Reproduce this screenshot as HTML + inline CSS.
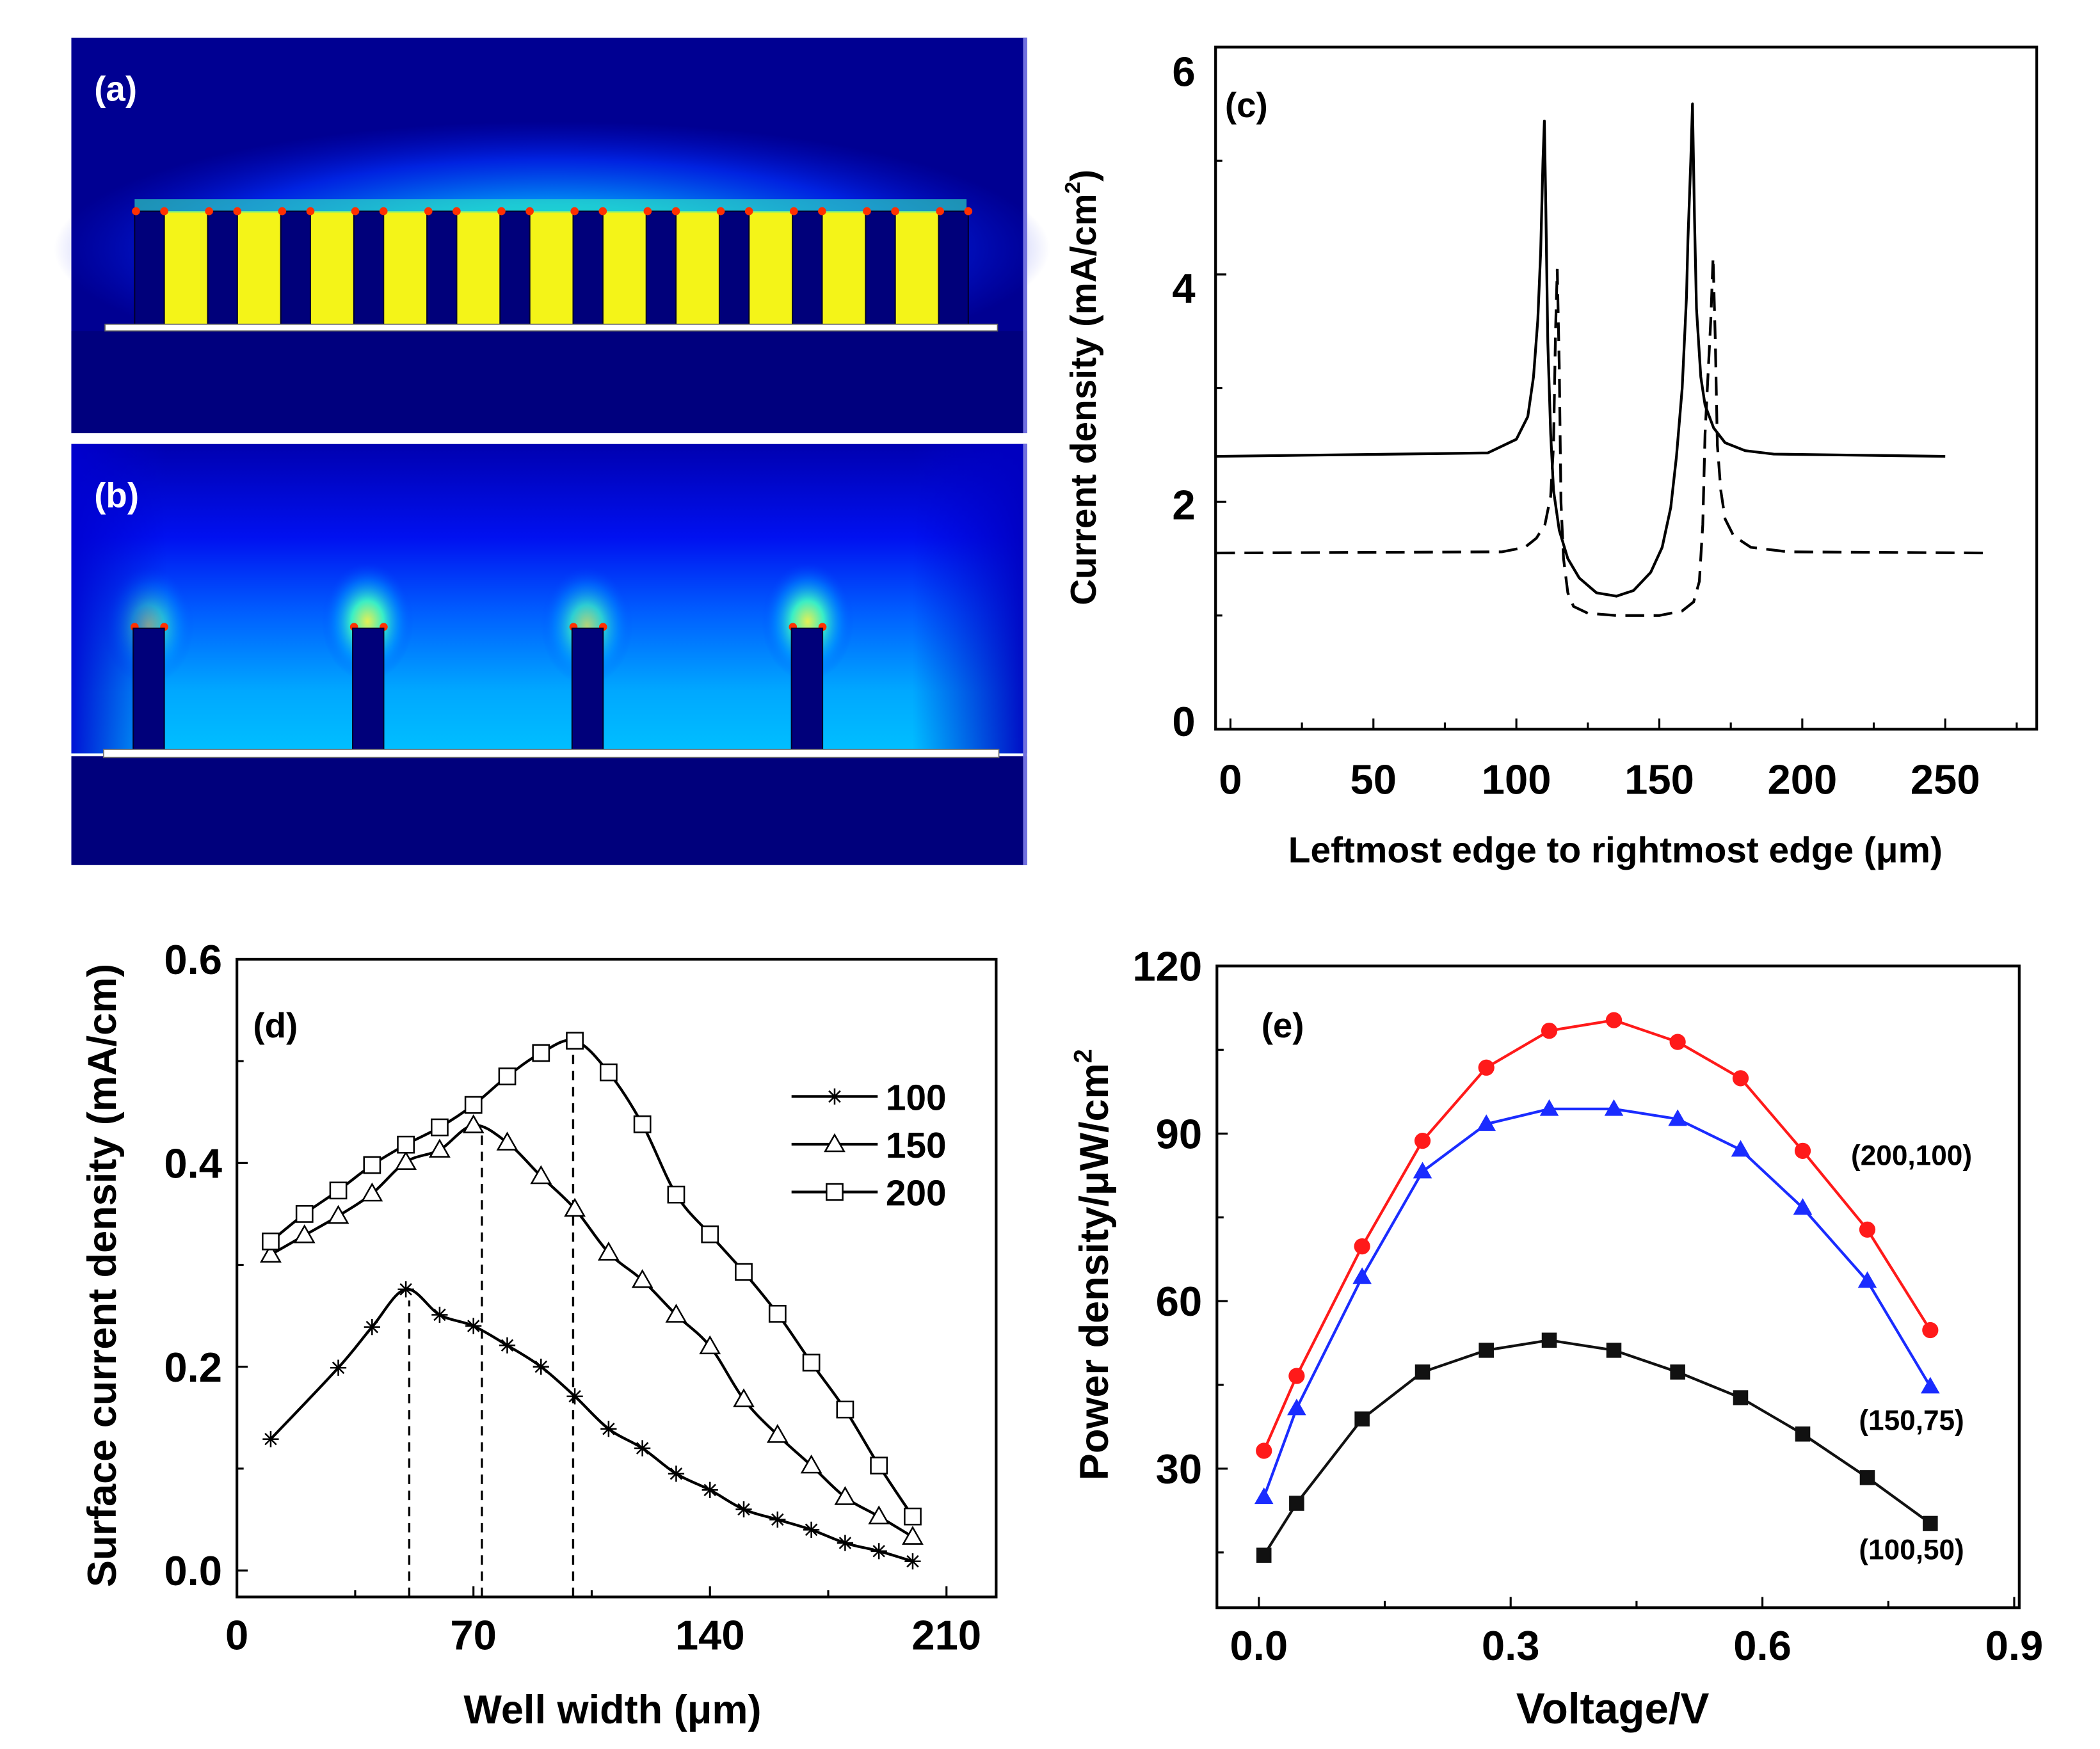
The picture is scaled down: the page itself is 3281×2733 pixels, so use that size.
<!DOCTYPE html>
<html><head><meta charset="utf-8"><style>
html,body{margin:0;padding:0;background:#fff;}
svg{display:block;}
text{font-family:"Liberation Sans",Arial,sans-serif;font-weight:bold;}
</style></head><body>
<svg id="fig" xmlns="http://www.w3.org/2000/svg" width="3281" height="2733" viewBox="0 0 1560 1300" preserveAspectRatio="none">
<defs>
<radialGradient id="glowA" cx="0.5" cy="0.5" r="0.5">
<stop offset="0" stop-color="#00ffe0"/><stop offset="0.35" stop-color="#00a0ff"/><stop offset="0.7" stop-color="#0030ff" stop-opacity="0.8"/><stop offset="1" stop-color="#0010e0" stop-opacity="0"/>
</radialGradient>
<linearGradient id="gB" x1="0" y1="0" x2="0" y2="1">
<stop offset="0" stop-color="#0000b0"/><stop offset="0.3" stop-color="#0010f0"/><stop offset="0.55" stop-color="#0060ff"/><stop offset="0.8" stop-color="#00a8ff"/><stop offset="1" stop-color="#00c0ff"/>
</linearGradient>
<linearGradient id="gBside" x1="0" y1="0" x2="1" y2="0">
<stop offset="0" stop-color="#0000d0" stop-opacity="0.9"/><stop offset="0.1" stop-color="#0000d0" stop-opacity="0"/><stop offset="0.88" stop-color="#0000d0" stop-opacity="0"/><stop offset="1" stop-color="#0000c0" stop-opacity="0.95"/>
</linearGradient>
<radialGradient id="glow"><stop offset="0" stop-color="#ffff40"/><stop offset="0.35" stop-color="#40ffc0"/><stop offset="0.7" stop-color="#00a0ff" stop-opacity="0.5"/><stop offset="1" stop-color="#0040ff" stop-opacity="0"/></radialGradient>
</defs>
</svg>
<script>
const NS="http://www.w3.org/2000/svg";
const svg=document.getElementById('fig');
// ---------- Panel (c) data ----------
const cSolidX=[-5,90,100,104,106,107.5,108.5,109.3,109.8,110.3,111,112,113,115,118,122,128,135,141,147,151,154,156,158,159.5,160,161,161.6,162.3,163,164.5,166,169,173,180,190,250];
const cSolidY=[2.4,2.43,2.55,2.75,3.1,3.6,4.2,5.0,5.35,4.6,3.4,2.6,2.1,1.75,1.5,1.33,1.2,1.17,1.22,1.38,1.6,1.95,2.4,3.0,3.8,4.3,5.0,5.5,4.5,3.7,3.1,2.85,2.65,2.52,2.45,2.42,2.4];
const cDashX=[-5,95,103,107,110,112,113,113.7,114.3,115,115.6,116.5,118,120,125,135,150,158,162,164,165.2,166,167,168,168.8,169.6,170.3,171.5,173,176,182,195,265];
const cDashY=[1.55,1.56,1.6,1.68,1.8,2.05,2.5,3.5,4.05,3.2,2.0,1.5,1.2,1.08,1.02,1.0,1.0,1.04,1.12,1.3,1.8,2.6,3.1,3.6,4.15,3.4,2.5,2.1,1.85,1.7,1.6,1.56,1.55];
const cXTicks=[0,50,100,150,200,250];
const cYTicks=[0,2,4,6];
// ---------- Panel (d) data ----------
const dX=[10,20,30,40,50,60,70,80,90,100,110,120,130,140,150,160,170,180,190,200];
const d100X=[10,30,40,50,60,70,80,90,100,110,120,130,140,150,160,170,180,190,200];
const d100=[0.129,0.199,0.239,0.276,0.251,0.24,0.221,0.2,0.171,0.139,0.12,0.095,0.079,0.06,0.05,0.04,0.027,0.019,0.009];
const d150=[0.31,0.329,0.348,0.37,0.401,0.413,0.437,0.42,0.387,0.355,0.312,0.285,0.251,0.22,0.168,0.133,0.103,0.072,0.053,0.033];
const d200=[0.323,0.35,0.373,0.398,0.418,0.435,0.457,0.485,0.508,0.52,0.489,0.438,0.369,0.33,0.293,0.252,0.204,0.158,0.103,0.053];
const dPeakX=[51,72.5,99.5];
const dPeakY=[0.265,0.43,0.52];
const dXTicks=[0,70,140,210];
const dYTicks=[0.0,0.2,0.4,0.6];
const dYTickLabels=["0.0","0.2","0.4","0.6"];
const dLegend=["100","150","200"];
// ---------- Panel (e) data ----------
const eV=[0.006,0.045,0.123,0.195,0.271,0.346,0.423,0.499,0.574,0.648,0.725,0.8];
const eRed=[33.2,46.6,69.8,88.7,101.8,108.4,110.3,106.4,99.9,86.9,72.8,54.8];
const eBlue=[24.9,40.8,64.3,83.2,91.7,94.4,94.4,92.6,87.1,76.7,63.6,44.7];
const eBlack=[14.5,23.8,38.9,47.3,51.2,53.0,51.2,47.3,42.7,36.2,28.4,20.2];
const eXTicks=[0,0.3,0.6,0.9];
const eXTickLabels=["0.0","0.3","0.6","0.9"];
const eYTicks=[30,60,90,120];
const eLabels=["(200,100)","(150,75)","(100,50)"];

function el(tag,attrs,parent){const e=document.createElementNS(NS,tag);for(const k in attrs)e.setAttribute(k,attrs[k]);(parent||svg).appendChild(e);return e;}
function txt(s,x,y,size,parent,anchor,extra){const t=el('text',Object.assign({x:x,y:y,'font-size':size,'text-anchor':anchor||'middle',fill:'#000'},extra||{}),parent);t.textContent=s;return t;}

// ---------- Panel (a) ----------
const gA=el('g',{});


el('rect',{x:53,y:28,width:710,height:294,fill:'#000092'},gA);
el('ellipse',{cx:410,cy:185,rx:370,ry:95,fill:'url(#glowA)',opacity:0.9},gA);
el('rect',{x:53,y:246,width:710,height:76,fill:'#00007e'},gA);
el('rect',{x:760,y:28,width:3,height:294,fill:'#7070e0'},gA);
el('rect',{x:100,y:157,width:618,height:87,fill:'#f4f418'},gA);
el('rect',{x:100,y:148,width:618,height:10,fill:'#30f0c0',opacity:0.6},gA);
for(let i=0;i<12;i++){
  const x=100+i*54.3;
  el('rect',{x:x,y:157,width:22,height:87,fill:'#00007a',stroke:'#000030','stroke-width':1},gA);
  el('circle',{cx:x+1,cy:157,r:3,fill:'#ff3000'},gA);
  el('circle',{cx:x+22,cy:157,r:3,fill:'#ff3000'},gA);
}
el('rect',{x:78,y:241,width:663,height:5,fill:'#ffffff',stroke:'#606060','stroke-width':0.8},gA);
const la=txt('(a)',70,75,26,gA,'start',{fill:'#fff'});



// ---------- Panel (b) ----------
const gB=el('g',{});


el('rect',{x:53,y:330,width:710,height:230,fill:'url(#gB)'},gB);
[[110,465,0.6],[273,462,0.9],[436,465,0.7],[600,462,0.9]].forEach(p=>{
  el('ellipse',{cx:p[0],cy:p[1],rx:34,ry:44,fill:'url(#glow)',opacity:p[2]},gB);
});
el('rect',{x:53,y:330,width:710,height:230,fill:'url(#gBside)'},gB);
el('rect',{x:53,y:562,width:710,height:81,fill:'#00007c'},gB);
el('rect',{x:760,y:330,width:3,height:313,fill:'#7070e0'},gB);
[99,262,425,588].forEach(x=>{
  el('circle',{cx:x+1,cy:466,r:3,fill:'#ff3000'},gB);
  el('circle',{cx:x+23,cy:466,r:3,fill:'#ff3000'},gB);
  el('rect',{x:x,y:467,width:23,height:91,fill:'#00007a',stroke:'#000030','stroke-width':1},gB);
});
el('rect',{x:77,y:557,width:665,height:6,fill:'#ffffff',stroke:'#707070','stroke-width':0.8},gB);
const lb=txt('(b)',70,377,26,gB,'start',{fill:'#fff'});



// ---------- Panel (c) ----------
const C={l:903,r:1513,t:35,b:542,x0:-5.2,x1:282,y0:0,y1:6};
const cx=v=>C.l+(v-C.x0)/(C.x1-C.x0)*(C.r-C.l);
const cy=v=>C.b-(v-C.y0)/(C.y1-C.y0)*(C.b-C.t);
const gC=el('g',{});


el('rect',{x:C.l,y:C.t,width:C.r-C.l,height:C.b-C.t,fill:'none',stroke:'#000','stroke-width':2},gC);
for(let v=0;v<=275;v+=25){const X=cx(v);el('line',{x1:X,y1:C.b,x2:X,y2:C.b-(v%50===0?8:5),stroke:'#000','stroke-width':1.5},gC);}
for(let v=0;v<=6;v+=1){const Y=cy(v);el('line',{x1:C.l,y1:Y,x2:C.l+(v%2===0?8:5),y2:Y,stroke:'#000','stroke-width':1.5},gC);}
cXTicks.forEach(v=>{const t=txt(String(v),cx(v),590,31,gC);});
cYTicks.forEach(v=>{const t=txt(String(v),888,64+(6-v)/6*483,31,gC,'end');});
const cSolid=el('polyline',{points:cSolidX.map((x,i)=>cx(x)+','+cy(cSolidY[i])).join(' '),fill:'none',stroke:'#000','stroke-width':2,'stroke-linejoin':'round'},gC);


const cDash=el('polyline',{points:cDashX.map((x,i)=>cx(x)+','+cy(cDashY[i])).join(' '),fill:'none',stroke:'#000','stroke-width':2,'stroke-dasharray':'14,7'},gC);


const lc=txt('(c)',910,87,26,gC,'start');


const cxt=txt('Leftmost edge to rightmost edge (μm)',1200,641,27,gC);


const cyt=el('text',{x:0,y:0,'font-size':27,'text-anchor':'middle',transform:'translate(814,288) rotate(-90)'},gC);
cyt.innerHTML='Current density (mA/cm<tspan font-size="16" dy="-12">2</tspan><tspan dy="12">)</tspan>';



// ---------- Panel (d) ----------
const D={l:176,r:740,t:713,b:1187,x0:0,x1:224.7,y0:-0.026,y1:0.6};
const dx=v=>D.l+(v-D.x0)/(D.x1-D.x0)*(D.r-D.l);
const dy=v=>D.b-(v-D.y0)/(D.y1-D.y0)*(D.b-D.t);
const gD=el('g',{});


el('rect',{x:D.l,y:D.t,width:D.r-D.l,height:D.b-D.t,fill:'none',stroke:'#000','stroke-width':2},gD);
for(let v=0;v<=210;v+=35){const X=dx(v);el('line',{x1:X,y1:D.b,x2:X,y2:D.b-(v%70===0?8:5),stroke:'#000','stroke-width':1.5},gD);}
for(let k=0;k<=6;k++){const Y=dy(k/10);el('line',{x1:D.l,y1:Y,x2:D.l+(k%2===0?8:5),y2:Y,stroke:'#000','stroke-width':1.5},gD);}
dXTicks.forEach(v=>{const t=txt(String(v),dx(v),1226,31,gD);});
dYTicks.forEach((v,i)=>{const t=txt(dYTickLabels[i],165,dy(v)+11,31,gD,'end');});
dPeakX.forEach((x,i)=>{const l=el('line',{x1:dx(x),y1:D.b,x2:dx(x),y2:dy(dPeakY[i]),stroke:'#000','stroke-width':1.6,'stroke-dasharray':'7,5'},gD);});
function smoothPath(pts){let d='M'+pts[0][0]+','+pts[0][1];for(let i=0;i<pts.length-1;i++){const p0=pts[Math.max(0,i-1)],p1=pts[i],p2=pts[i+1],p3=pts[Math.min(pts.length-1,i+2)];const c1=[p1[0]+(p2[0]-p0[0])/6,p1[1]+(p2[1]-p0[1])/6],c2=[p2[0]-(p3[0]-p1[0])/6,p2[1]-(p3[1]-p1[1])/6];d+=' C'+c1+' '+c2+' '+p2;}return d;}
function marker(type,X,Y,g,color,size){
  if(type==='star'){const s=size||6;el('path',{d:`M${X-s},${Y}H${X+s}M${X},${Y-s}V${Y+s}M${X-s*0.7},${Y-s*0.7}L${X+s*0.7},${Y+s*0.7}M${X-s*0.7},${Y+s*0.7}L${X+s*0.7},${Y-s*0.7}`,stroke:'#000','stroke-width':1.2,fill:'none'},g);}
  else if(type==='tri'){const s=size||7;el('polygon',{points:`${X},${Y-s} ${X-s},${Y+s*0.75} ${X+s},${Y+s*0.75}`,fill:color||'#fff',stroke:color||'#000','stroke-width':1.2},g);}
  else if(type==='sq'){const s=size||6;el('rect',{x:X-s,y:Y-s,width:2*s,height:2*s,fill:color||'#fff',stroke:color||'#000','stroke-width':1.2},g);}
  else if(type==='circ'){el('circle',{cx:X,cy:Y,r:size||5,fill:color},g);}
}
[[d100X,d100,'star','100'],[dX,d150,'tri','150'],[dX,d200,'sq','200']].forEach(s=>{
  const g=el('g',{},gD);
  
  
  el('path',{d:smoothPath(s[0].map((x,i)=>[dx(x),dy(s[1][i])])),fill:'none',stroke:'#000','stroke-width':2},g);
  s[0].forEach((x,i)=>marker(s[2],dx(x),dy(s[1][i]),g));
});
const legD=el('g',{},gD);


['star','tri','sq'].forEach((m,i)=>{
  const Y=815+i*35.5;
  el('line',{x1:588,y1:Y,x2:652,y2:Y,stroke:'#000','stroke-width':2},legD);
  marker(m,620,Y,legD);
  const t=txt(dLegend[i],658,Y+10,27,legD,'start',{'font-weight':'normal'});
  
  
});
const ld=txt('(d)',188,771,26,gD,'start');


const dxt=txt('Well width (μm)',455,1281,30,gD);


const dyt=txt('Surface current density (mA/cm)',0,0,30,gD,'middle',{transform:'translate(86,948) rotate(-90)'});



// ---------- Panel (e) ----------
const E={l:904,r:1500,t:718,b:1195,x0:-0.05,x1:0.906,y0:5.1,y1:120};
const ex=v=>E.l+(v-E.x0)/(E.x1-E.x0)*(E.r-E.l);
const ey=v=>E.b-(v-E.y0)/(E.y1-E.y0)*(E.b-E.t);
const gE=el('g',{});


el('rect',{x:E.l,y:E.t,width:E.r-E.l,height:E.b-E.t,fill:'none',stroke:'#000','stroke-width':2},gE);
for(let k=0;k<=6;k++){const X=ex(k*0.15);el('line',{x1:X,y1:E.b,x2:X,y2:E.b-(k%2===0?8:5),stroke:'#000','stroke-width':1.5},gE);}
for(let v=15;v<=120;v+=15){const Y=ey(v);el('line',{x1:E.l,y1:Y,x2:E.l+(v%30===0?8:5),y2:Y,stroke:'#000','stroke-width':1.5},gE);}
eXTicks.forEach((v,i)=>{const t=txt(eXTickLabels[i],ex(v),1234,31,gE);});
eYTicks.forEach(v=>{const t=txt(String(v),893,ey(v)+11,31,gE,'end');});
[[eRed,'#ff1a1a','circ','red'],[eBlue,'#1a2cff','tri','blue'],[eBlack,'#111','sq','black']].forEach(s=>{
  const g=el('g',{},gE);
  
  
  el('polyline',{points:eV.map((v,i)=>ex(v)+','+ey(s[0][i])).join(' '),fill:'none',stroke:s[1],'stroke-width':2},g);
  eV.forEach((v,i)=>marker(s[2],ex(v),ey(s[0][i]),g,s[1],s[2]==='sq'?5:6));
});
[[1420,866],[1420,1063],[1420,1159]].forEach((p,i)=>{const t=txt(eLabels[i],p[0],p[1],21,gE);});
const le=txt('(e)',937,771,26,gE,'start');


const ext=txt('Voltage/V',1198,1281,32,gE);


const eyt=el('text',{x:0,y:0,'font-size':30,'text-anchor':'middle',transform:'translate(823,940) rotate(-90)'},gE);
eyt.innerHTML='Power density/μW/cm<tspan font-size="19" dy="-12">2</tspan>';


</script>
</body></html>
